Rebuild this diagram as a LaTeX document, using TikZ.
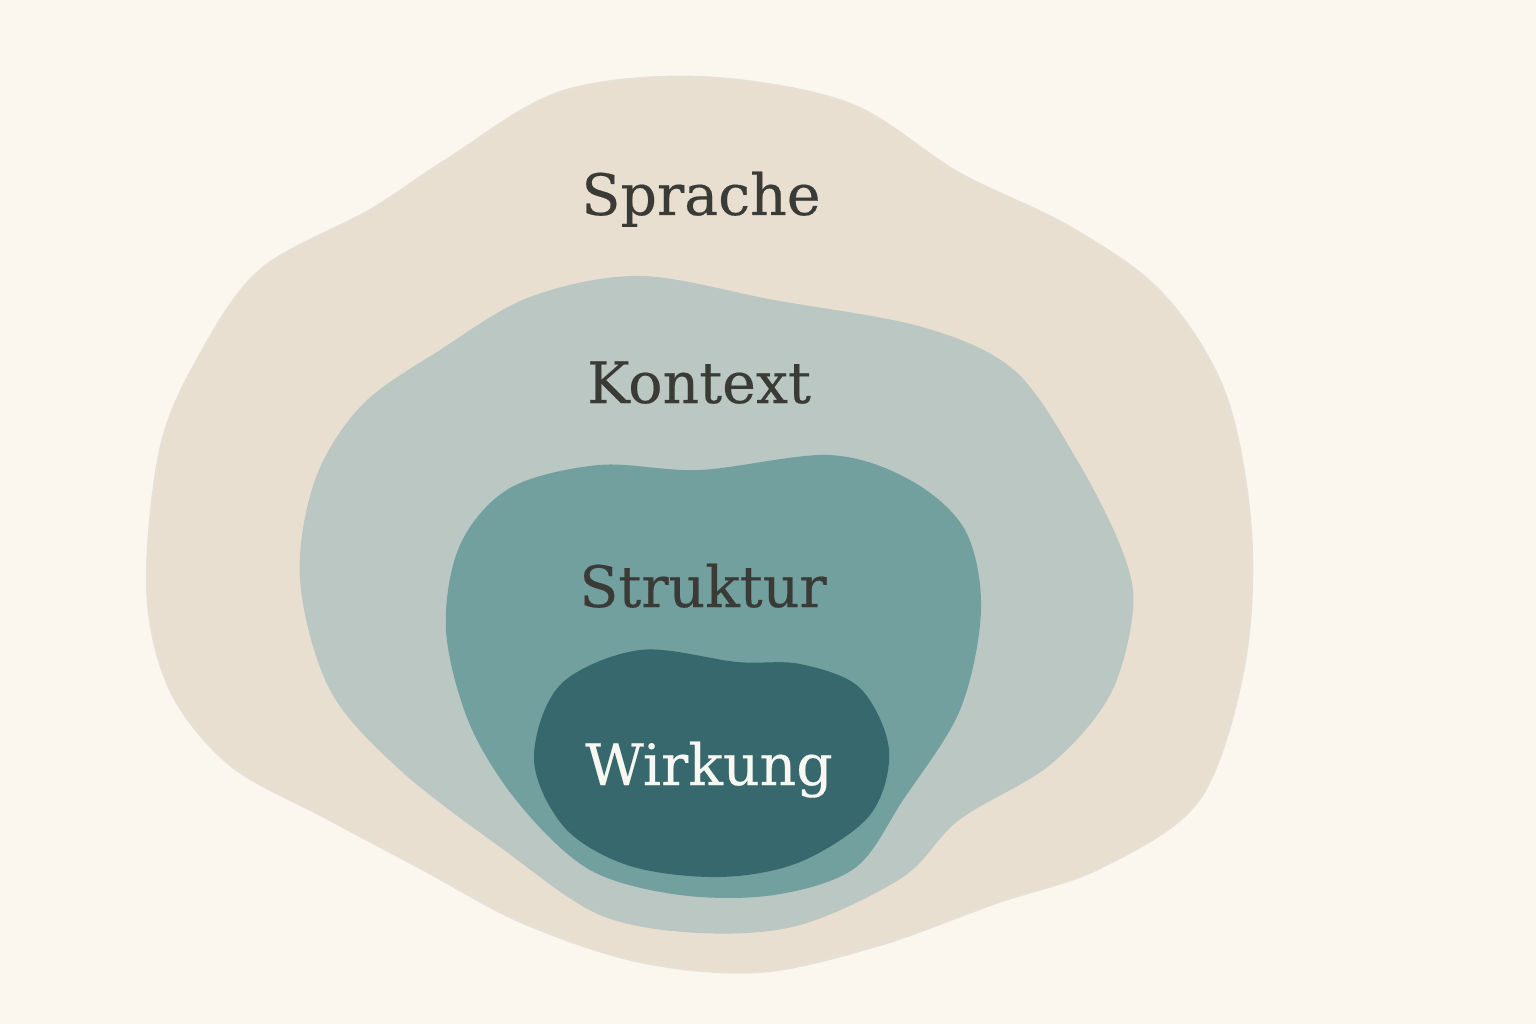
\documentclass[tikz,border=0pt]{standalone}
\usepackage{fontspec}
\setmainfont{DejaVu Serif}[FakeBold=0.3]
\usepackage{tikz}

\definecolor{paper}{HTML}{FBF7EE}
\definecolor{sprachefill}{HTML}{E8DFD0}
\definecolor{sprachrim}{HTML}{E6E1D6}
\definecolor{kontextfill}{HTML}{BAC7C2}
\definecolor{strukturfill}{HTML}{72A09E}
\definecolor{wirkungfill}{HTML}{37686E}
\definecolor{ink}{HTML}{3A3B36}
\definecolor{inklight}{HTML}{F8F8F2}

\begin{document}
\begin{tikzpicture}[x=1pt, y=-1pt,
  blob/.style = {line width=2pt, line join=round},
  lbl/.style = {anchor=base, inner sep=0pt, text=ink,
    font=\fontsize{57}{60}\selectfont}]
  \fill[paper] (0,0) rectangle (1536,1024);
  \useasboundingbox (0,0) rectangle (1536,1024);

  % Sprache
  \filldraw[blob, fill=sprachefill, draw=sprachrim] plot[smooth cycle, tension=0.55] coordinates {
    (700,77) (848,103) (959,173) (1070,227) (1162,293) (1225,393)
    (1251,530) (1244,667) (1199,800) (1100,868) (996,903) (880,945)
    (760,972) (640,962) (523,923) (420,868) (324,817) (230,765)
    (170,690) (147,590) (160,450) (197,360) (260,270) (370,210)
    (446,160) (560,92)};

  % Kontext
  \fill[blob, kontextfill] plot[smooth cycle, tension=0.55] coordinates {
    (640,276) (774,300) (922,327) (1014,370) (1077,460) (1122,550)
    (1133,610) (1110,695) (1050,765) (959,820) (903,877) (800,925)
    (700,933) (600,915) (504,850) (400,770) (330,690) (300,580)
    (315,480) (362,405) (440,350) (530,297)};

  % Struktur
  \fill[blob, strukturfill] plot[smooth cycle, tension=0.55] coordinates {
    (599,465) (700,470) (829,455) (910,480) (965,530) (981,610)
    (960,710) (903,800) (855,868) (774,895) (680,895) (590,870)
    (520,805) (470,725) (446,630) (460,545) (510,488)};

  % Wirkung
  \fill[blob, wirkungfill] plot[smooth cycle, tension=0.55] coordinates {
    (640,650) (737,662) (800,664) (860,688) (889,750) (870,815)
    (800,862) (720,877) (630,866) (565,828) (534,760) (560,685)};

  \node[lbl] (sprache) at (701,215) {Sprache};
  \node[lbl] (kontext) at (699,403) {Kontext};
  \node[lbl] (struktur) at (703,607) {Struktur};
  \node[lbl, text=inklight] (wirkung) at (709,785) {Wirkung};
\end{tikzpicture}
\end{document}
